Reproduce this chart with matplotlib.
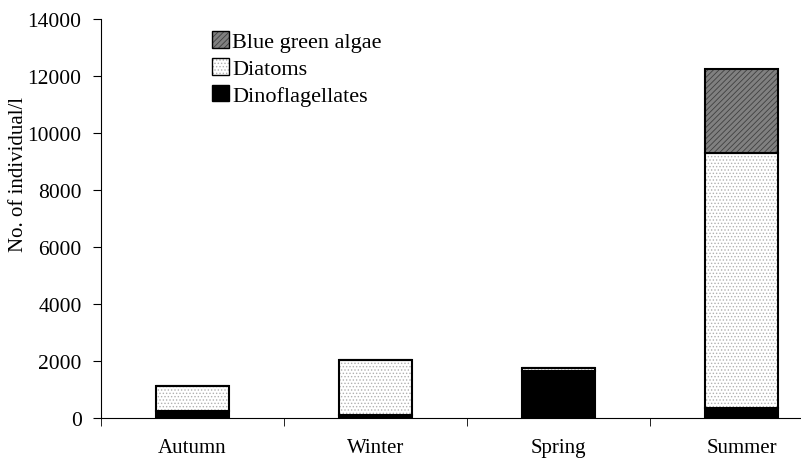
import numpy as np
import matplotlib.pyplot as plt
from matplotlib.patches import Patch

seasons = ['Autumn', 'Winter', 'Spring', 'Summer']
dinoflagellates = [250, 100, 1650, 350]
diatoms = [880, 1940, 130, 8950]
blue_green = [0, 0, 0, 2950]

plt.rcParams['font.family'] = 'Liberation Serif'
plt.rcParams['hatch.linewidth'] = 0.6

fig = plt.figure(figsize=(8.01, 4.64), dpi=100)
ax = fig.add_axes([101/801, 1 - 419.3/464, 1 - 101/801, (419.3 - 20)/464])

x = np.arange(len(seasons))
w = 0.40
dino = np.array(dinoflagellates)
diat = np.array(diatoms)
bga = np.array(blue_green)

# fill layers (hatch drawn in its own colour), outlines drawn afterwards
styles = [
    (dino, 0, 'black', None, 'black'),
    (diat, dino, 'white', '.....', '#b0b0b0'),
    (bga, dino + diat, '#808080', '//////', '#404040'),
]
for vals, bot, fc, hatch, hc in styles:
    ax.bar(x, vals, w, bottom=bot, color=fc, hatch=hatch, edgecolor=hc, linewidth=0)
    ax.bar(x, vals, w, bottom=bot, facecolor='none', edgecolor='black', linewidth=1.5)

ax.set_yticks(np.arange(0, 14001, 2000))
ax.set_xticks(x)
ax.set_xticklabels(seasons)
ax.set_xticks(np.arange(-0.5, 3.6, 1), minor=True)
ax.set_xlim(-0.5, 3.325)
ax.set_ylim(0, 14000)
ax.tick_params(axis='x', which='major', length=0, pad=14, labelsize=15)
ax.tick_params(axis='x', which='minor', length=6, direction='out')
ax.tick_params(axis='y', length=6, direction='out', labelsize=15.5, pad=8)
ax.spines['top'].set_visible(False)
ax.spines['right'].set_visible(False)

fig.text(19/801, 1 - 175/464, 'No. of individual/l', rotation=90,
         ha='center', va='center', fontsize=15)

handles = [
    (Patch(facecolor='#808080', hatch='//////', edgecolor='#404040', linewidth=0),
     Patch(facecolor='none', edgecolor='black', linewidth=1.0)),
    (Patch(facecolor='white', hatch='.....', edgecolor='#b0b0b0', linewidth=0),
     Patch(facecolor='none', edgecolor='black', linewidth=1.0)),
    Patch(facecolor='black', edgecolor='black'),
]
ax.legend(handles, ['Blue green algae', 'Diatoms', 'Dinoflagellates'],
          loc='upper left', bbox_to_anchor=(0.1586, 0.969), frameon=False,
          borderpad=0, borderaxespad=0,
          fontsize=16, handlelength=0.78, handleheight=0.78, handletextpad=0.14,
          labelspacing=0.25)

fig.savefig('out.png', dpi=100)
